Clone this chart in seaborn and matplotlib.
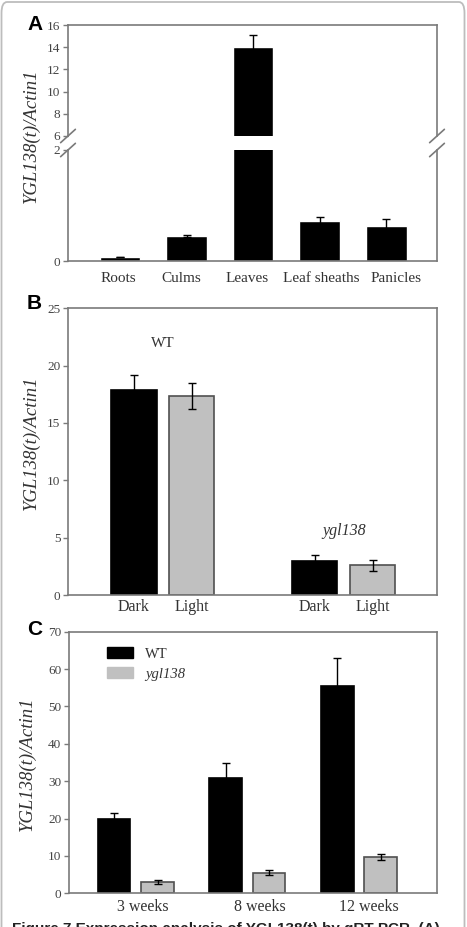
import numpy as np
import pandas as pd
import matplotlib
matplotlib.use("Agg")
import matplotlib.pyplot as plt
import matplotlib.transforms as mtransforms
from matplotlib.patches import Patch, FancyBboxPatch
import seaborn as sns

# panel A: tissues
tissues = ["Roots", "Culms", "Leaves", "Leaf sheaths", "Panicles"]
tissue_mean = [0.07, 0.45, 14.0, 0.72, 0.63]
tissue_err = [0.005, 0.01, 1.1, 0.08, 0.13]

# panel B: dark / light
genotypes = ["WT", "ygl138"]
conditions = ["Dark", "Light"]
dl_mean = {"Dark": [17.9, 2.96], "Light": [17.35, 2.6]}
dl_err = {"Dark": [1.3, 0.55], "Light": [1.15, 0.47]}

# panel C: age
ages = ["3 weeks", "8 weeks", "12 weeks"]
lines = ["WT", "ygl138"]
age_mean = {"WT": [19.9, 30.9, 55.6], "ygl138": [3.1, 5.5, 9.7]}
age_err = {"WT": [1.7, 4.1, 7.4], "ygl138": [0.5, 0.7, 0.8]}

ylab = "YGL138(t)/Actin1"

sns.set_theme(style="ticks")
plt.rcParams["font.family"] = ["Liberation Serif", "DejaVu Serif"]

W, H = 467, 927
fig = plt.figure(figsize=(W / 100, H / 100), dpi=100)

spine_c = "#7a7a7a"
tick_c = "#444444"
text_c = "#333333"
gray_bar = "#c0c0c0"
pal = {"Dark": "black", "Light": gray_bar, "WT": "black", "ygl138": gray_bar}
edge = {"Dark": "black", "Light": "#505050", "WT": "black", "ygl138": "#505050"}


def ax_box(top_px, bot_px, left_px=68, right_px=437):
    return [left_px / W, (H - bot_px) / H, (right_px - left_px) / W, (bot_px - top_px) / H]


def style(ax, spines=("left", "right", "top", "bottom"), xpad=4, xsize=11.5):
    for s in ["left", "right", "top", "bottom"]:
        ax.spines[s].set_visible(s in spines)
        ax.spines[s].set_color(spine_c)
        ax.spines[s].set_linewidth(1.2)
    ax.tick_params(axis="y", direction="out", length=3.5, width=1, color=spine_c,
                   labelsize=9.5, labelcolor=tick_c, pad=2)
    ax.tick_params(axis="x", length=0, labelsize=xsize, labelcolor=text_c, pad=xpad)
    ax.set_xlabel("")
    ax.set_ylabel("")


def nudge_xlabels(ax, shifts_px):
    # small horizontal shifts of the tick labels, in pixels
    for lab, dx in zip(ax.get_xticklabels(), shifts_px):
        off = mtransforms.ScaledTranslation(dx / 100, 0, fig.dpi_scale_trans)
        lab.set_transform(lab.get_transform() + off)


def add_errors(ax, hue_order, means, errs):
    for cont, h in zip(ax.containers, hue_order):
        for p, m, e in zip(cont.patches, means[h], errs[h]):
            ax.errorbar(p.get_x() + p.get_width() / 2, m, yerr=e, fmt="none",
                        ecolor="black", elinewidth=1, capsize=3, capthick=1)
            p.set_edgecolor(edge[h])
            p.set_linewidth(1.2)


# ---------- A ----------
df_a = pd.DataFrame({"tissue": tissues, "val": tissue_mean})
ax_top = fig.add_axes(ax_box(25, 136))
ax_bot = fig.add_axes(ax_box(150, 261))
for ax in (ax_top, ax_bot):
    sns.barplot(data=df_a, x="tissue", y="val", color="black", width=0.61,
                errorbar=None, ax=ax, saturation=1)
    for p, m, e in zip(ax.patches, tissue_mean, tissue_err):
        ax.errorbar(p.get_x() + p.get_width() / 2, m, yerr=e, fmt="none",
                    ecolor="black", elinewidth=1, capsize=3, capthick=1)
    ax.set_xlim(-0.78, 4.76)
ax_top.set_ylim(6, 16)
ax_top.set_yticks([6, 8, 10, 12, 14, 16])
ax_bot.set_ylim(0, 2)
ax_bot.set_yticks([0, 2])
style(ax_top, ("left", "right", "top"))
style(ax_bot, ("left", "right", "bottom"), xpad=8, xsize=11)
ax_top.tick_params(axis="x", labelbottom=False)
nudge_xlabels(ax_bot, [-2, -5, -6, 1, 10])
ax_bot.set_ylabel(ylab, style="italic", fontsize=13.5, color=text_c)
ax_bot.yaxis.set_label_coords(-0.076, 1.13)

# break marks
for xx in (0, 1):
    ax_top.plot([xx - 0.02, xx + 0.02], [-0.06, 0.06], transform=ax_top.transAxes,
                color=spine_c, lw=1.2, clip_on=False)
    ax_bot.plot([xx - 0.02, xx + 0.02], [0.94, 1.06], transform=ax_bot.transAxes,
                color=spine_c, lw=1.2, clip_on=False)

# ---------- B ----------
rows = []
for c in conditions:
    for g, m in zip(genotypes, dl_mean[c]):
        rows.append((g, c, m))
df_b = pd.DataFrame(rows, columns=["genotype", "condition", "val"])
ax_b = fig.add_axes(ax_box(308.3, 595))
sns.barplot(data=df_b, x="genotype", y="val", hue="condition", order=genotypes,
            hue_order=conditions, palette=pal, width=0.64, gap=0.22,
            errorbar=None, legend=False, ax=ax_b, saturation=1)
add_errors(ax_b, conditions, dl_mean, dl_err)
ax_b.set_xlim(-0.525, 1.515)
ax_b.set_ylim(0, 25)
ax_b.set_yticks([0, 5, 10, 15, 20, 25])
style(ax_b, xpad=3)
centers, labs = [], []
for cont, c in zip(ax_b.containers, conditions):
    for p in cont.patches:
        centers.append(p.get_x() + p.get_width() / 2)
        labs.append(c)
ax_b.set_xticks(centers)
ax_b.set_xticklabels(labs)
ax_b.text(0, 21.9, "WT", ha="center", va="center", fontsize=11, color=text_c)
ax_b.text(1, 5.6, "ygl138", ha="center", va="center", fontsize=11.5,
          style="italic", color=text_c)
ax_b.set_ylabel(ylab, style="italic", fontsize=13.5, color=text_c)
ax_b.yaxis.set_label_coords(-0.076, 0.53)

# ---------- C ----------
rows = []
for ln in lines:
    for a, m in zip(ages, age_mean[ln]):
        rows.append((a, ln, m))
df_c = pd.DataFrame(rows, columns=["age", "line", "val"])
ax_c = fig.add_axes(ax_box(631.7, 893.3, left_px=69))
sns.barplot(data=df_c, x="age", y="val", hue="line", order=ages, hue_order=lines,
            palette=pal, width=0.78, gap=0.25, errorbar=None, legend=False,
            ax=ax_c, saturation=1)
add_errors(ax_c, lines, age_mean, age_err)
ax_c.set_xlim(-0.6, 2.7)
ax_c.set_ylim(0, 70)
ax_c.set_yticks(range(0, 71, 10))
style(ax_c, xpad=4)
nudge_xlabels(ax_c, [7, 12, 10])
ax_c.set_ylabel(ylab, style="italic", fontsize=13.5, color=text_c)
ax_c.yaxis.set_label_coords(-0.09, 0.494)
handles = [Patch(facecolor="black", edgecolor="black", label="WT"),
           Patch(facecolor=gray_bar, edgecolor=gray_bar, label="ygl138")]
leg = ax_c.legend(handles=handles, loc="upper left", bbox_to_anchor=(0.068, 0.99),
                  frameon=False, fontsize=10.5, handlelength=1.8, handleheight=0.75,
                  handletextpad=0.8, labelspacing=0.45)
for t in leg.get_texts():
    t.set_color(text_c)
leg.get_texts()[1].set_style("italic")

# panel letters
for lab, ypx in (("A", 30), ("B", 309), ("C", 635)):
    fig.text(27 / W, (H - ypx) / H, lab, fontsize=15, fontweight="bold",
             family="Liberation Sans", color="black", va="baseline")

# caption (cut off at bottom edge, as in the source)
fig.text(12 / W, (H - 922.5) / H,
         "Figure 7 Expression analysis of YGL138(t) by qRT-PCR. (A)",
         fontsize=11, fontweight="bold", family="Liberation Sans", color="#222222",
         va="top")

# frame around figure
frame = FancyBboxPatch((1.5 / W, -0.05), (W - 4) / W, 1.05 - 2 / H,
                       boxstyle="round,pad=0,rounding_size=0.012",
                       transform=fig.transFigure, fill=False, edgecolor="#bdbdbd",
                       lw=1.3, clip_on=False)
fig.patches.append(frame)

fig.savefig("out.png", dpi=100)
